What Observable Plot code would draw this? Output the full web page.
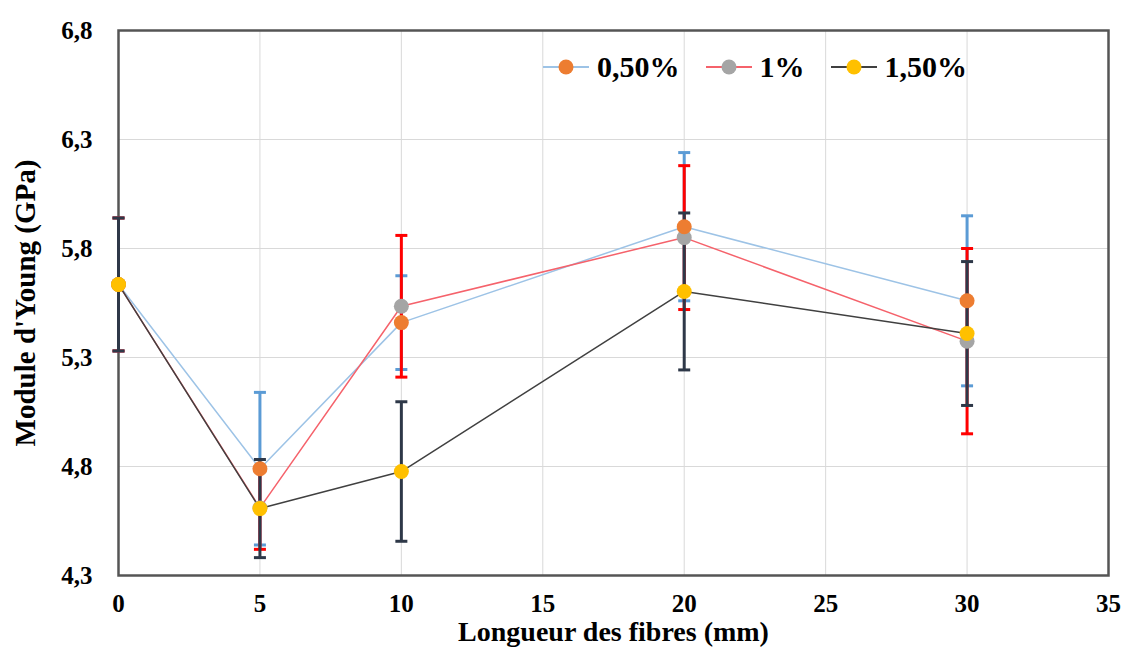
<!DOCTYPE html>
<html><head><meta charset="utf-8">
<script src="https://cdn.jsdelivr.net/npm/d3@7"></script>
<script src="https://cdn.jsdelivr.net/npm/@observablehq/plot@0.6"></script>
<style>
body{margin:0;background:#fff;}
#wrap{position:relative;width:1125px;height:653px;font-family:"Liberation Serif","Times New Roman",serif;}
#legend{position:absolute;left:543px;top:50px;display:flex;align-items:center;font-weight:bold;font-size:30px;color:#000;}
#legend .item{display:flex;align-items:center;margin-right:26px;}
#legend svg{margin-right:8px;}
</style></head>
<body><div id="wrap"><div id="chart"></div><div id="legend"></div></div>
<script>
// ---- data ----
const lengths = [0, 5, 10, 20, 30];
const seriesNames = ["0,50%", "1%", "1,50%"];
const module050 = [5.635, 4.79, 5.46, 5.90, 5.56];
const error050  = [0.305, 0.35, 0.215, 0.34, 0.39];
const module100 = [5.635, 4.61, 5.535, 5.85, 5.375];
const error100  = [0.305, 0.19, 0.325, 0.33, 0.425];
const module150 = [5.635, 4.607, 4.777, 5.603, 5.41];
const error150  = [0.305, 0.225, 0.32, 0.36, 0.33];
const xTicks = [0, 5, 10, 15, 20, 25, 30, 35];
const yTicks = [4.3, 4.8, 5.3, 5.8, 6.3, 6.8];
const xLabel = "Longueur des fibres (mm)";
const yLabel = "Module d'Young (GPa)";

// ---- styles ----
const lineColors = ["#9DC3E6", "#F5626B", "#404040"];
const dotColors  = ["#ED7D31", "#A5A5A5", "#FFC000"];
const errColors  = ["#5B9BD5", "#FF0000", "#2E3848"];

const values = [module050, module100, module150];
const errors = [error050, error100, error150];
const rows = seriesNames.map((s, i) => lengths.map((x, j) => ({
  series: s, x, y: values[i][j], lo: values[i][j] - errors[i][j], hi: values[i][j] + errors[i][j]
})));

const cap = {draw(ctx) { ctx.moveTo(-6, 0); ctx.lineTo(6, 0); }};

const lineMarks = rows.map((r, i) => Plot.line(r, {x: "x", y: "y", stroke: lineColors[i], strokeWidth: 1.5}));
const errMarks = rows.flatMap((r, i) => [
  Plot.ruleX(r, {x: "x", y1: "lo", y2: "hi", stroke: errColors[i], strokeWidth: 3}),
  Plot.dot(r, {x: "x", y: "hi", symbol: cap, fill: "none", stroke: errColors[i], strokeWidth: 3}),
  Plot.dot(r, {x: "x", y: "lo", symbol: cap, fill: "none", stroke: errColors[i], strokeWidth: 3})
]);
const dotOrder = [1, 0, 2];
const dotMarks = dotOrder.map(i => Plot.dot(rows[i], {x: "x", y: "y", r: 7.5, fill: dotColors[i], stroke: "none"}));

const chart = Plot.plot({
  width: 1125, height: 653,
  marginLeft: 118, marginRight: 17, marginTop: 30, marginBottom: 78,
  x: {domain: [0, 35]},
  y: {domain: [4.3, 6.8]},
  style: {fontFamily: "'Liberation Serif','Times New Roman',serif", fontSize: "25px", fontWeight: "bold", color: "#000", background: "#fff"},
  marks: [
    Plot.gridX({ticks: xTicks, stroke: "#d9d9d9", strokeOpacity: 1}),
    Plot.gridY({ticks: yTicks, stroke: "#d9d9d9", strokeOpacity: 1}),
    Plot.frame({stroke: "#555555", strokeWidth: 2.5}),
    ...lineMarks,
    ...errMarks,
    ...dotMarks,
    Plot.axisX({ticks: xTicks, tickSize: 0, tickPadding: 19, tickFormat: d => String(d), label: null}),
    Plot.axisY({ticks: yTicks, tickSize: 0, tickPadding: 26, tickFormat: d => d.toFixed(1).replace(".", ","), label: null}),
    Plot.text([xLabel], {text: d => d, frameAnchor: "bottom", textAnchor: "middle", dy: 65, fontSize: 28, fontWeight: "bold"}),
    Plot.text([yLabel], {text: d => d, frameAnchor: "left", textAnchor: "middle", dx: -93, rotate: -90, fontSize: 29, fontWeight: "bold"})
  ]
});
document.getElementById("chart").appendChild(chart);

// ---- legend ----
const legend = document.getElementById("legend");
seriesNames.forEach((s, i) => {
  const item = document.createElement("div");
  item.className = "item";
  item.innerHTML = `<svg width="46" height="20"><line x1="0" y1="10" x2="46" y2="10" stroke="${lineColors[i]}" stroke-width="2"/><circle cx="23" cy="10" r="7.5" fill="${dotColors[i]}"/></svg><span>${s}</span>`;
  legend.appendChild(item);
});
</script>
</body></html>
